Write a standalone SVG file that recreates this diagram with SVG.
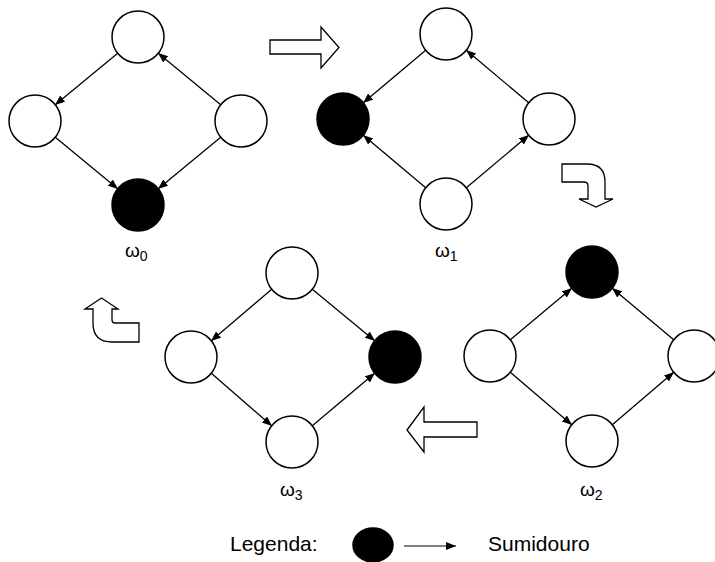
<svg xmlns="http://www.w3.org/2000/svg" width="715" height="562" viewBox="0 0 715 562">
<style>
.n{fill:#fff;stroke:#000;stroke-width:1.5}
.s{fill:#000;stroke:#000;stroke-width:1.5}
.e{stroke:#000;stroke-width:1.3;fill:none;marker-end:url(#ah)}
.big{fill:#fff;stroke:#000;stroke-width:1.3;stroke-linejoin:miter}
.t{font-family:"Liberation Sans",Arial,sans-serif;fill:#000}
.lab{font-size:19px}
.sub{font-size:14px}
</style>
<defs>
<marker id="ah" markerUnits="userSpaceOnUse" markerWidth="12" markerHeight="10" refX="10" refY="4" orient="auto">
<path d="M0,0 L10,4 L0,8 Z" fill="#000"/>
</marker>
</defs>
<rect width="715" height="562" fill="#fff"/>

<g id="connectors">
<!-- w0 -->
<line class="e" x1="118" y1="53" x2="55" y2="105"/>
<line class="e" x1="221" y1="105" x2="158" y2="53"/>
<line class="e" x1="55" y1="137" x2="118" y2="189"/>
<line class="e" x1="221" y1="137" x2="158" y2="189"/>
<!-- w1 -->
<line class="e" x1="426" y1="50" x2="363" y2="103"/>
<line class="e" x1="426" y1="188" x2="363" y2="135"/>
<line class="e" x1="466" y1="188" x2="529" y2="135"/>
<line class="e" x1="529" y1="103" x2="466" y2="50"/>
<!-- w2 -->
<line class="e" x1="510" y1="340" x2="572" y2="288"/>
<line class="e" x1="674" y1="340" x2="612" y2="288"/>
<line class="e" x1="510" y1="372" x2="572" y2="425"/>
<line class="e" x1="612" y1="425" x2="674" y2="372"/>
<!-- w3 -->
<line class="e" x1="272" y1="289" x2="211" y2="341"/>
<line class="e" x1="312" y1="289" x2="375" y2="341"/>
<line class="e" x1="211" y1="373" x2="272" y2="426"/>
<line class="e" x1="312" y1="426" x2="375" y2="373"/>
<!-- legend arrow -->
<line class="e" x1="404" y1="546" x2="456" y2="546" style="stroke-width:1"/>
</g>

<g id="w0">
<circle id="w0-top" class="n" cx="138" cy="37" r="26"/>
<circle id="w0-left" class="n" cx="35" cy="121" r="26"/>
<circle id="w0-right" class="n" cx="241" cy="121" r="26"/>
<circle id="w0-bottom" class="s" cx="138" cy="205" r="26"/>
<text class="t lab" x="125" y="257">ω<tspan class="sub" dy="4">0</tspan></text>
</g>

<g id="w1">
<circle id="w1-top" class="n" cx="446" cy="34" r="26"/>
<circle id="w1-left" class="s" cx="343" cy="119" r="26"/>
<circle id="w1-right" class="n" cx="549" cy="119" r="26"/>
<circle id="w1-bottom" class="n" cx="446" cy="204" r="26"/>
<text class="t lab" x="435" y="257">ω<tspan class="sub" dy="4">1</tspan></text>
</g>

<g id="w2">
<circle id="w2-top" class="s" cx="592" cy="272" r="26"/>
<circle id="w2-left" class="n" cx="490" cy="356" r="26"/>
<circle id="w2-right" class="n" cx="694" cy="356" r="26"/>
<circle id="w2-bottom" class="n" cx="592" cy="441" r="26"/>
<text class="t lab" x="580" y="496">ω<tspan class="sub" dy="4">2</tspan></text>
</g>

<g id="w3">
<circle id="w3-top" class="n" cx="292" cy="273" r="26"/>
<circle id="w3-left" class="n" cx="191" cy="357" r="26"/>
<circle id="w3-right" class="s" cx="395" cy="357" r="26"/>
<circle id="w3-bottom" class="n" cx="292" cy="442" r="26"/>
<text class="t lab" x="280" y="496">ω<tspan class="sub" dy="4">3</tspan></text>
</g>

<g id="transitions">
<path id="arrow-right" class="big" d="M270,40 L321,40 L321,27 L339,47.5 L321,68 L321,54 L270,54 Z"/>
<path id="arrow-curve-down" class="big" d="M562,164 L587,164 Q605,164 605,182 L605,199 L613,199 L596,207 L579,199 L588,199 L588,186 Q588,182 584,182 L562,182 Z"/>
<path id="arrow-left" class="big" d="M407,430 L424,407 L424,422 L477,422 L477,437 L424,437 L424,452 Z"/>
<path id="arrow-curve-up" class="big" d="M101.5,298 L118,309 L112,309 L112,320 Q112,323 115,323 L139,323 L139,342 L112,342 Q93,342 93,323 L93,309 L85,309 Z"/>
</g>

<g id="legend">
<text class="t" x="230" y="551" font-size="21">Legenda:</text>
<ellipse class="s" cx="373" cy="545" rx="20" ry="17"/>
<text class="t" x="488" y="551" font-size="21">Sumidouro</text>
</g>
</svg>
